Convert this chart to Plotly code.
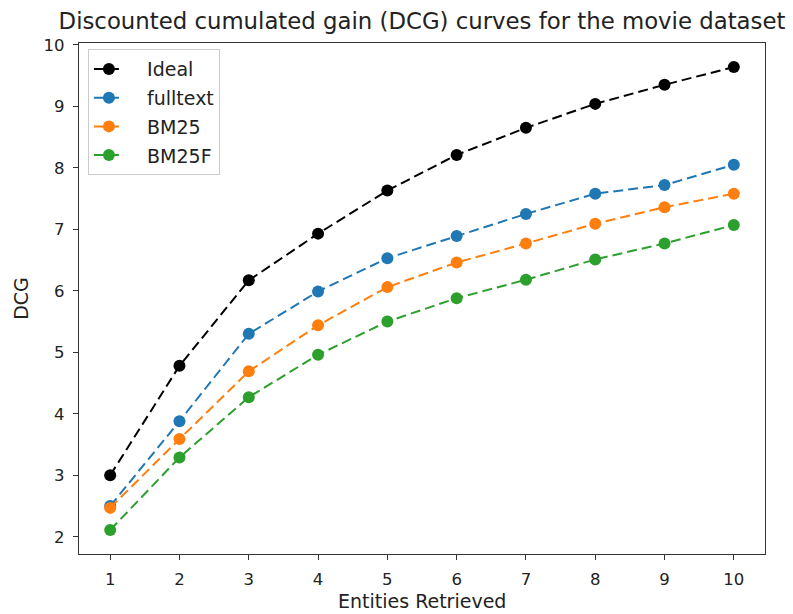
import plotly.graph_objects as go

entities = [1, 2, 3, 4, 5, 6, 7, 8, 9, 10]
ideal = [3.00, 4.78, 6.17, 6.93, 7.63, 8.21, 8.65, 9.04, 9.35, 9.64]
fulltext = [2.50, 3.88, 5.30, 5.99, 6.53, 6.89, 7.25, 7.58, 7.72, 8.05]
bm25 = [2.47, 3.59, 4.69, 5.44, 6.06, 6.46, 6.77, 7.09, 7.36, 7.58]
bm25f = [2.11, 3.29, 4.27, 4.96, 5.50, 5.88, 6.18, 6.51, 6.77, 7.07]

series = [
    ("Ideal", ideal, "#000000"),
    ("fulltext", fulltext, "#1f77b4"),
    ("BM25", bm25, "#ff7f0e"),
    ("BM25F", bm25f, "#2ca02c"),
]

FONT = "DejaVu Sans"
TXT = "#222222"
fig = go.Figure()
for name, vals, col in series:
    fig.add_trace(go.Scatter(
        x=entities, y=vals, name="\u00a0\u00a0\u00a0" + name, mode="lines+markers",
        legendgroup=name,
        line=dict(color=col, width=2, dash="10px,5px"),
        marker=dict(color=col, size=12, line=dict(width=0)),
    ))

axis_common = dict(
    showgrid=False, zeroline=False, showline=True, mirror=True,
    linecolor="#333333", linewidth=1.2, ticks="outside", ticklen=5,
    tickwidth=1.2, tickcolor="#333333", automargin=False,
    ticklabelstandoff=5,
    tickfont=dict(family=FONT, size=16.5, color=TXT),
)

W, H = 793, 614
PLOT_TOP, PLOT_BOTTOM, PLOT_LEFT, PLOT_RIGHT = 43, 554, 79, 765
fig.update_layout(
    width=W, height=H,
    paper_bgcolor="white", plot_bgcolor="white",
    margin=dict(l=PLOT_LEFT, r=W - PLOT_RIGHT, t=PLOT_TOP, b=H - PLOT_BOTTOM),
    font=dict(family=FONT, color=TXT),
    title=dict(text="Discounted cumulated gain (DCG) curves for the movie dataset",
               x=0.5, xref="paper", xanchor="center",
               y=1 - 21 / H, yref="container", yanchor="middle",
               font=dict(family=FONT, size=22.8, color=TXT)),
    xaxis=dict(range=[0.55, 10.45], tickmode="array", tickvals=entities,
               ticktext=[str(e) for e in entities],
               **axis_common),
    yaxis=dict(range=[1.72, 10.03], tickmode="array",
               tickvals=[2, 3, 4, 5, 6, 7, 8, 9, 10],
               title=dict(text="DCG", standoff=9,
                          font=dict(family=FONT, size=19, color=TXT)),
               **axis_common),
    annotations=[dict(
        text="Entities Retrieved", showarrow=False,
        xref="paper", yref="paper", x=0.5,
        y=(PLOT_BOTTOM - 601) / (PLOT_BOTTOM - PLOT_TOP),
        xanchor="center", yanchor="middle",
        font=dict(family=FONT, size=19, color=TXT),
    )],
    legend=dict(x=0.013, y=0.988, xanchor="left", yanchor="top",
                bordercolor="#cccccc", borderwidth=1, bgcolor="rgba(255,255,255,0.8)",
                font=dict(family=FONT, size=19, color=TXT),
                traceorder="grouped", tracegroupgap=1),
    showlegend=True,
)

fig.write_html("out.html", config={"displayModeBar": False},
               post_script="document.body.style.margin='0';document.body.style.overflow='hidden';")
